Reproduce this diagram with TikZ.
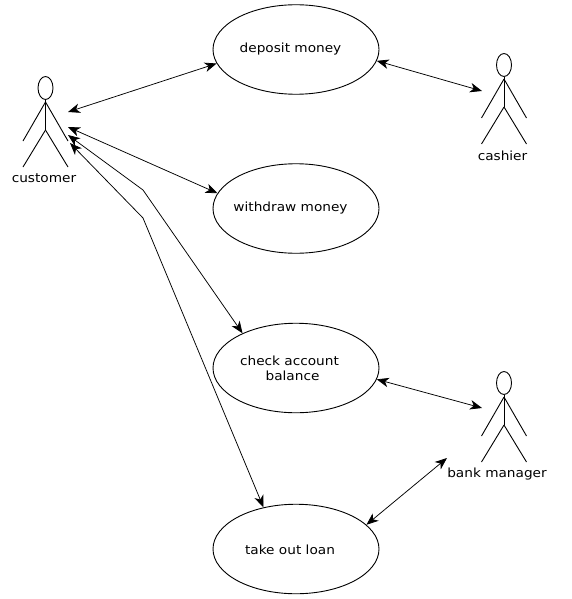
\documentclass[tikz,border=0pt]{standalone}
\usepackage{fontspec}
\setmainfont[FakeStretch=1.085]{DejaVu Sans}
\usetikzlibrary{shapes.geometric,arrows.meta}
\tikzset{
  usecase/.style={ellipse,draw,line width=0.9pt,minimum width=166pt,minimum height=89.5pt,inner sep=0pt},
  head/.style={ellipse,draw,line width=0.9pt,minimum width=15pt,minimum height=23pt,inner sep=0pt},
  limb/.style={line width=0.9pt},
  assoc/.style={line width=0.75pt,{Stealth[length=12pt,width=9.5pt,inset=3.5pt]}-{Stealth[length=12pt,width=9.5pt,inset=3.5pt]}},
  caption/.style={inner sep=0pt,font=\fontsize{12.6pt}{15pt}\selectfont,align=center},
}
\newcommand{\stickman}[3]{%
  \node[head] (#1h) at (#2,#3) {};
  \coordinate (#1b) at (#2,#3+42);
  \draw[limb] (#1h.south) -- (#1b);
  \draw[limb] (#2,#3+14) -- (#2-22.5,#3+53);
  \draw[limb] (#2,#3+14) -- (#2+22.5,#3+53);
  \draw[limb] (#1b) -- (#2-22.5,#3+79);
  \draw[limb] (#1b) -- (#2+22.5,#3+79);
}
\begin{document}
\begin{tikzpicture}[x=1pt,y=-1pt]
\useasboundingbox (0,0) rectangle (572,599);
\node[usecase] (dep) at (296,49.5) {};
\node[usecase] (wit) at (296,208.5) {};
\node[usecase] (chk) at (296,368) {};
\node[usecase] (loan) at (296,549) {};
\node[caption] (tdep) at (290.5,49) {deposit money};
\node[caption] (twit) at (290.5,208) {withdraw money};
\node[caption] (tchk) at (289.5,368) {check account\\\hspace{6pt}balance};
\node[caption] (tloan) at (290,550) {take out loan};
\stickman{c}{45.5}{88}
\stickman{k}{504}{65}
\stickman{m}{504}{383}
\node[caption] (tc) at (44,178.5) {customer};
\node[caption] (tk) at (502.5,155.5) {cashier};
\node[caption] (tm) at (497,474.5) {bank manager};
\coordinate (c1) at (68,112);
\coordinate (c2) at (68,127);
\coordinate (c3) at (68,135);
\coordinate (c4) at (70,143);
\coordinate (b3) at (143,190);
\coordinate (b4) at (143,218);
\coordinate (k1) at (482,91);
\coordinate (m1) at (482,408);
\coordinate (m2) at (447,458);
\draw[assoc] (c1) -- (dep.-170);
\draw[assoc] (c2) -- (wit.169);
\draw[assoc] (c3) -- (b3) -- (chk.147.5);
\draw[assoc] (c4) -- (b4) -- (loan.128);
\draw[assoc] (dep.-8.5) -- (k1);
\draw[assoc] (chk.-8) -- (m1);
\draw[assoc] (loan.19.5) -- (m2);
\end{tikzpicture}
\end{document}
